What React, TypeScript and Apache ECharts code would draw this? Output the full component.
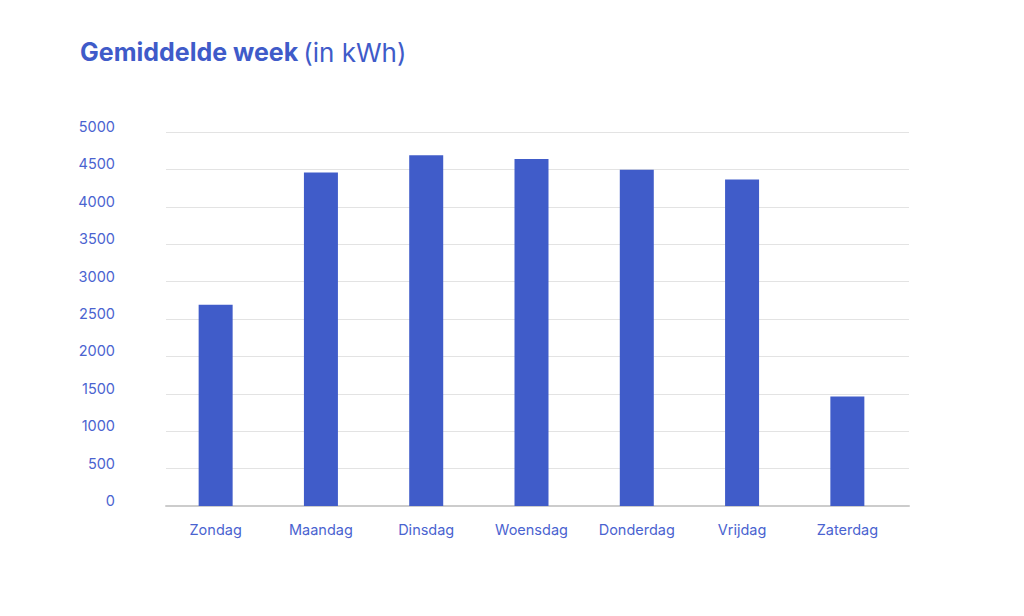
import React, { useEffect, useRef } from "react";
import * as echarts from "echarts";

const days = ["Zondag", "Maandag", "Dinsdag", "Woensdag", "Donderdag", "Vrijdag", "Zaterdag"];
const kwh = [2690, 4460, 4690, 4640, 4495, 4365, 1465];
const yMax = 5000;
const yStep = 500;

export default function App() {
  const ref = useRef<HTMLDivElement>(null);
  useEffect(() => {
    if (!ref.current) return;
    const chart = echarts.init(ref.current, undefined, { renderer: "svg" });
    const labelColor = "#4a63d0";
    chart.setOption({
      animation: false,
      backgroundColor: "#ffffff",
      title: {
        left: 75,
        top: 34,
        text: "{b|Gemiddelde week} {n|(in kWh)}",
        textStyle: {
          rich: {
            b: { fontFamily: "Inter", fontWeight: "bold", fontSize: 25, color: "#3f5bc9" },
            n: { fontFamily: "Inter", fontWeight: "normal", fontSize: 26, color: "#3f5bc9" },
          },
        },
      },
      grid: [
        { left: 166, right: 115, top: 132, bottom: 110 },
        { left: 163, right: 124, top: 132, bottom: 110 },
      ],
      xAxis: [
        {
          type: "category",
          gridIndex: 0,
          data: days,
          axisTick: { show: false },
          axisLabel: { show: false },
          axisLine: { lineStyle: { color: "#cccccc", width: 2 } },
        },
        {
          type: "category",
          gridIndex: 1,
          data: days,
          axisTick: { show: false },
          axisLine: { show: false },
          axisLabel: { color: labelColor, fontFamily: "Inter", fontSize: 14.5, margin: 16 },
        },
      ],
      yAxis: [
        {
          type: "value",
          gridIndex: 0,
          min: 0,
          max: yMax,
          interval: yStep,
          axisLine: { show: false },
          axisTick: { show: false },
          axisLabel: {
            color: labelColor,
            fontFamily: "Inter",
            fontSize: 14.5,
            margin: 51,
            verticalAlign: "bottom",
            lineHeight: 11,
            formatter: (v: number) => String(v),
          },
          splitLine: { lineStyle: { color: "#e3e3e3", width: 1 } },
        },
        {
          type: "value",
          gridIndex: 1,
          min: 0,
          max: yMax,
          interval: yStep,
          axisLine: { show: false },
          axisTick: { show: false },
          axisLabel: { show: false },
          splitLine: { show: false },
        },
      ],
      series: [
        {
          type: "bar",
          xAxisIndex: 1,
          yAxisIndex: 1,
          data: kwh,
          barWidth: 34,
          itemStyle: { color: "#405cc9" },
          z: 3,
        },
      ],
    });
    return () => chart.dispose();
  }, []);
  return <div ref={ref} style={{ position: "fixed", left: 0, top: 0, width: 1024, height: 616 }} />;
}
